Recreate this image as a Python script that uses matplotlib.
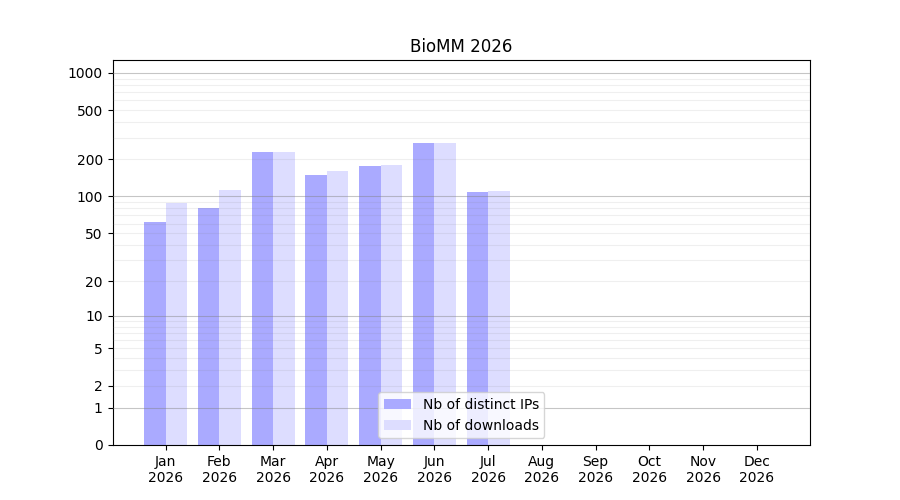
import numpy as np
import matplotlib
matplotlib.use("Agg")
import matplotlib.pyplot as plt

months = ["Jan", "Feb", "Mar", "Apr", "May", "Jun",
          "Jul", "Aug", "Sep", "Oct", "Nov", "Dec"]
year = "2026"
distinct_ips = [62, 80, 229, 149, 177, 271, 108, 0, 0, 0, 0, 0]
downloads = [88, 112, 229, 161, 180, 271, 110, 0, 0, 0, 0, 0]
y_ticks = [0, 1, 2, 5, 10, 20, 50, 100, 200, 500, 1000]


def forward(v):
    return np.log10(1 + np.clip(v, 0, None))


def inverse(v):
    return 10 ** np.asarray(v) - 1


def main() -> None:
    fig, ax = plt.subplots(figsize=(9, 5), dpi=100)
    x = np.arange(len(months))
    ax.bar(x - 0.2, distinct_ips, width=0.4, color="#aaaaff",
           label="Nb of distinct IPs")
    ax.bar(x + 0.2, downloads, width=0.4, color="#ddddff",
           label="Nb of downloads")

    ax.set_yscale("function", functions=(forward, inverse))
    ax.set_ylim(0, 1270)
    ax.set_yticks(y_ticks)
    ax.set_yticklabels([str(t) for t in y_ticks])
    ax.minorticks_off()

    # grid lines drawn over the bars
    for p in range(0, 4):
        ax.axhline(10 ** p, color="gray", alpha=0.45, lw=0.8, zorder=3)
        if p < 3:
            for k in range(2, 10):
                ax.axhline(k * 10 ** p, color="gray", alpha=0.12,
                           lw=0.8, zorder=3)

    ax.set_xticks(x)
    ax.set_xticklabels([m + "\n" + year for m in months])
    ax.set_title("BioMM 2026")
    ax.legend(loc="lower center")
    fig.savefig("out.png")


main()
